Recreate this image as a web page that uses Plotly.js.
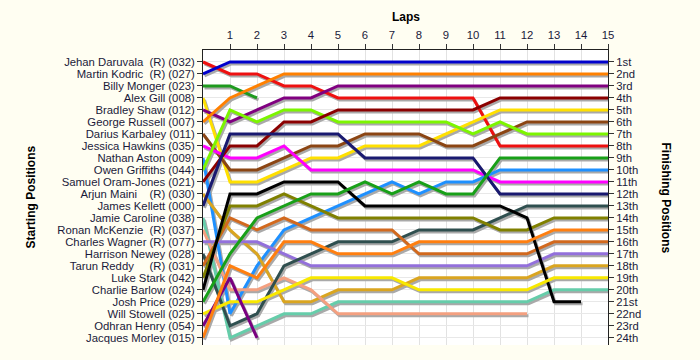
<!DOCTYPE html>
<html>
<head>
<meta charset="utf-8">
<script src="https://cdn.plot.ly/plotly-3.0.1.min.js"></script>
<style>html,body{margin:0;padding:0;background:#FFFEF2;}#chart{width:700px;height:360px;}</style>
</head>
<body>
<div id="chart"></div>
<script>
// ---- data ----
const laps = [0,1,2,3,4,5,6,7,8,9,10,11,12,13,14,15];
const lapTicks = [1,2,3,4,5,6,7,8,9,10,11,12,13,14,15];
const positionTicks = [1,2,3,4,5,6,7,8,9,10,11,12,13,14,15,16,17,18,19,20,21,22,23,24];
const startLabels = [
  "Jehan Daruvala\u00a0\u00a0(R) (032)",
  "Martin Kodric\u00a0\u00a0(R) (027)",
  "Billy Monger (023)",
  "Alex Gill (008)",
  "Bradley Shaw (012)",
  "George Russell (007)",
  "Darius Karbaley (011)",
  "Jessica Hawkins (035)",
  "Nathan Aston (009)",
  "Owen Griffiths (044)",
  "Samuel Oram-Jones (021)",
  "Arjun Maini\u00a0\u00a0\u00a0\u00a0(R) (030)",
  "James Kellett (000)",
  "Jamie Caroline (038)",
  "Ronan McKenzie\u00a0\u00a0(R) (037)",
  "Charles Wagner (R) (077)",
  "Harrison Newey (028)",
  "Tarun Reddy\u00a0\u00a0\u00a0\u00a0\u00a0(R) (031)",
  "Luke Stark (042)",
  "Charlie Barlow (024)",
  "Josh Price (029)",
  "Will Stowell (025)",
  "Odhran Henry (054)",
  "Jacques Morley (015)"
];
const finishLabels = ["1st","2nd","3rd","4th","5th","6th","7th","8th","9th","10th","11th","12th",
  "13th","14th","15th","16th","17th","18th","19th","20th","21st","22nd","23rd","24th"];

// positions by lap (lap 0 = starting position)
const daruvala  = [1,2,2,3,3,4,4,4,4,4,4,8,8,8,8,8];
const kodric    = [2,1,1,1,1,1,1,1,1,1,1,1,1,1,1,1];
const monger    = [3,3,4];
const gill      = [4,11,11,10,9,9,8,8,8,7,6,5,5,5,5,5];
const shaw      = [5,6,5,4,4,3,3,3,3,3,3,3,3,3,3,3];
const russell   = [6,4,3,2,2,2,2,2,2,2,2,2,2,2,2,2];
const karbaley  = [7,10,10,9,8,8,7,7,7,8,8,7,6,6,6,6];
const hawkins   = [8,9,9,8,10,10,10,10,10,10,10,11,11,11,11,11];
const aston     = [9,22,18,15,14,13,12,11,12,11,11,10,10,10,10,10];
const griffiths = [10,5,6,5,5,6,6,6,6,6,7,6,7,7,7,7];
const oramJones = [11,8,8,6,6,5,5,5,5,5,5,4,4,4,4,4];
const maini     = [12,15,17,21,21,20,20,20,19,19,19,19,19,18,18,18];
const kellett   = [13,7,7,7,7,7,9,9,9,9,9,12,12,12,12,12];
const caroline  = [14,24,23,22,22,21,21,21,21,21,21,21,21,20,20,20];
const mckenzie  = [15,20,20,19,20,22,22,22,22,22,22,22,22];
const wagner    = [16,16,16,17,18,18,18,18,18,18,18,18,18,17,17,17];
const newey     = [17,23,22,18,17,16,16,16,15,15,15,14,13,13,13,13];
const reddy     = [18,14,15,14,15,15,15,15,17,17,17,17,17,16,16,16];
const stark     = [19,13,13,12,13,14,14,14,14,14,14,15,15,14,14,14];
const barlow    = [20,12,12,11,11,11,13,13,13,13,13,13,14,21,21];
const price     = [21,17,14,13,12,12,11,12,11,12,12,9,9,9,9,9];
const stowell   = [22,21,21,20,19,19,19,19,20,20,20,20,20,19,19,19];
const henry     = [23,19,24];
const morley    = [24,18,19,16,16,17,17,17,16,16,16,16,16,15,15,15];

const series = [daruvala,kodric,monger,gill,shaw,russell,karbaley,hawkins,aston,griffiths,oramJones,
  maini,kellett,caroline,mckenzie,wagner,newey,reddy,stark,barlow,price,stowell,henry,morley];
const colors = ["#EE1010","#0000CC","#1E9A1E","#FFE000","#800080","#FF8000","#8B4513","#FF00FF",
  "#1E90FF","#7CF500","#8B0000","#DAA520","#191970","#66CDAA","#F4A080","#9370DB",
  "#2F4F4F","#D2691E","#808000","#000000","#18A018","#F8E800","#7A0080","#FF7F10"];

// ---- geometry / style ----
const YMAX = 24.6;
const shadowDx = 1.5/27, shadowDy = 2/12;
const tickFont = {family: "Liberation Sans, Arial, sans-serif", size: 11.3, color: "#1a1a3a"};
const titleFont = {family: "Liberation Sans, Arial, sans-serif", size: 12, color: "#000"};

const traces = [];
// drop shadows (same data, drawn on an axis pair shifted by a couple of pixels)
series.forEach((s, i) => {
  traces.push({x: laps.slice(0, s.length), y: s, xaxis: "x", yaxis: "y", mode: "lines",
    line: {color: "#a9a9a9", width: 3}, hoverinfo: "skip", showlegend: false});
});
// the position lines
series.forEach((s, i) => {
  traces.push({x: laps.slice(0, s.length), y: s, xaxis: "x2", yaxis: "y2", mode: "lines",
    line: {color: colors[i], width: 3}, name: startLabels[i], showlegend: false});
});
// transparent copy of the leader's line so the right-hand (finishing) axis is drawn
traces.push({x: laps.slice(0, kodric.length), y: kodric, xaxis: "x2", yaxis: "y3", mode: "lines",
  line: {color: "rgba(0,0,0,0)", width: 0}, opacity: 0, hoverinfo: "skip", showlegend: false});

const layout = {
  width: 700, height: 360,
  margin: {l: 203, r: 92, t: 50, b: 15},
  paper_bgcolor: "#FFFEF2", plot_bgcolor: "#FFFFFF",
  showlegend: false,
  xaxis: {range: [0 - shadowDx, 15 - shadowDx], visible: false, fixedrange: true},
  yaxis: {range: [YMAX - shadowDy, 0 - shadowDy], visible: false, fixedrange: true},
  xaxis2: {overlaying: "x", side: "top", anchor: "y2", range: [0, 15],
    tickmode: "array", tickvals: lapTicks, ticks: "outside", ticklen: 5, tickcolor: "#333",
    ticklabelstandoff: 0,
    showgrid: true, gridcolor: "#e2e2e2", gridwidth: 1, zeroline: false,
    showline: true, linecolor: "#222", linewidth: 1, tickfont: tickFont},
  yaxis2: {overlaying: "y", side: "left", anchor: "x2", range: [YMAX, 0],
    tickmode: "array", tickvals: positionTicks, ticktext: startLabels,
    ticks: "outside", ticklen: 5, tickcolor: "#333",
    showgrid: true, gridcolor: "#e8e8e8", gridwidth: 1, zeroline: false,
    showline: true, linecolor: "#222", linewidth: 1, tickfont: tickFont},
  yaxis3: {overlaying: "y", side: "right", anchor: "x2", range: [YMAX, 0],
    tickmode: "array", tickvals: positionTicks, ticktext: finishLabels,
    ticks: "outside", ticklen: 5, tickcolor: "#333",
    showgrid: false, zeroline: false,
    showline: true, linecolor: "#222", linewidth: 1, tickfont: tickFont},
  annotations: [
    {text: "<b>Laps</b>", xref: "paper", yref: "paper", x: 0.5, y: (345 - 17) / 295,
     xanchor: "center", yanchor: "middle", showarrow: false, font: titleFont},
    {text: "<b>Starting Positions</b>", xref: "paper", yref: "paper", x: (30 - 203) / 405, y: 0.5,
     xanchor: "center", yanchor: "middle",
     textangle: -90, showarrow: false, font: titleFont},
    {text: "<b>Finishing Positions</b>", xref: "paper", yref: "paper", x: (666 - 203) / 405, y: 0.5,
     xanchor: "center", yanchor: "middle",
     textangle: 90, showarrow: false, font: titleFont}
  ]
};

Plotly.newPlot("chart", traces, layout, {displayModeBar: false, staticPlot: true});
</script>
</body>
</html>
